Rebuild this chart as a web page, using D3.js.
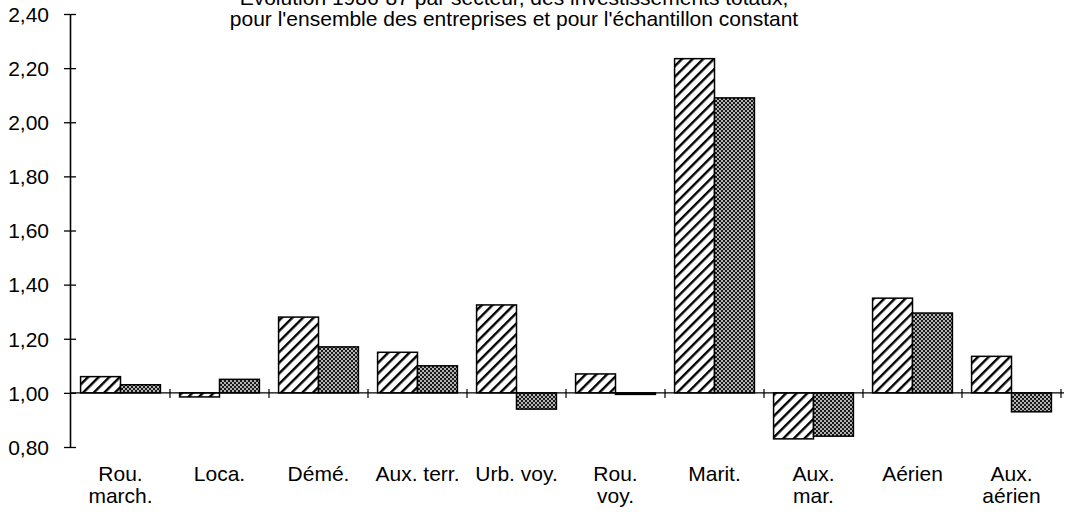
<!DOCTYPE html>
<html>
<head>
<meta charset="utf-8">
<script src="https://cdn.jsdelivr.net/npm/d3@7"></script>
<style>
  html, body { margin: 0; padding: 0; background: #fff; }
  svg { display: block; font-family: "Liberation Sans", Arial, Helvetica, sans-serif; }
</style>
</head>
<body>
<svg id="chart" width="1065" height="520"></svg>
<script>
// ---- data ----
const categories = [
  ["Rou.", "march."], ["Loca."], ["Démé."], ["Aux. terr."], ["Urb. voy."],
  ["Rou.", "voy."], ["Marit."], ["Aux.", "mar."], ["Aérien"], ["Aux.", "aérien"]
];
const seriesNames = ["ensemble", "constant"];
const ensembleValues = [1.06, 0.985, 1.28, 1.15, 1.325, 1.07, 2.235, 0.83, 1.35, 1.135];
const constantValues = [1.03, 1.05, 1.17, 1.10, 0.94, 0.995, 2.09, 0.84, 1.295, 0.93];
const yTicks = [0.8, 1.0, 1.2, 1.4, 1.6, 1.8, 2.0, 2.2, 2.4];
const titleLines = [
  "Evolution 1986-87 par secteur, des investissements totaux,",
  "pour l'ensemble des entreprises et pour l'échantillon constant"
];

// ---- drawing ----
const svg = d3.select("#chart");
const axisX = 70;
const keys = categories.map(c => c.join(" "));
const x = d3.scaleBand().domain(keys).range([71, 1061]).padding(0);
const xi = d3.scaleBand().domain(seriesNames).range([0, x.bandwidth()]).paddingInner(0).paddingOuter(0.24);
const y = d3.scaleLinear().domain([0.8, 2.4]).range([447, 14]);
const base = y(1.0);

const defs = svg.append("defs");
const hatch = defs.append("pattern").attr("id", "hatch")
  .attr("patternUnits", "userSpaceOnUse").attr("width", 7.5).attr("height", 7.5)
  .attr("patternTransform", "rotate(45)");
hatch.append("rect").attr("width", 7.5).attr("height", 7.5).attr("fill", "#fff");
hatch.append("rect").attr("x", 0).attr("y", 0).attr("width", 2.4).attr("height", 7.5).attr("fill", "#000");

const dots = defs.append("pattern").attr("id", "dots")
  .attr("patternUnits", "userSpaceOnUse").attr("width", 4).attr("height", 4);
dots.append("rect").attr("width", 4).attr("height", 4).attr("fill", "#1a1a1a");
dots.append("circle").attr("cx", 1).attr("cy", 1).attr("r", 0.9).attr("fill", "#fff");
dots.append("circle").attr("cx", 3).attr("cy", 3).attr("r", 0.9).attr("fill", "#fff");

// title
svg.append("g").selectAll("text").data(titleLines).join("text")
  .attr("x", 514).attr("y", (d, i) => 5 + i * 21)
  .attr("text-anchor", "middle").attr("font-size", 21).attr("fill", "#000")
  .text(d => d);

// bars
const rows = keys.map((k, i) => ({ key: k, vals: [ensembleValues[i], constantValues[i]] }));
const g = svg.append("g").selectAll("g").data(rows).join("g")
  .attr("transform", d => `translate(${x(d.key)},0)`);
g.selectAll("rect").data(d => d.vals.map((v, j) => ({ s: seriesNames[j], v }))).join("rect")
  .attr("x", d => xi(d.s))
  .attr("width", xi.bandwidth())
  .attr("y", d => Math.min(y(d.v), base))
  .attr("height", d => Math.max(1.5, Math.abs(y(d.v) - base)))
  .attr("fill", d => d.s === "ensemble" ? "url(#hatch)" : "url(#dots)")
  .attr("stroke", "#000").attr("stroke-width", 1.5);

// baseline at 1.00 with group ticks
svg.append("line").attr("x1", axisX).attr("x2", 1064).attr("y1", base).attr("y2", base)
  .attr("stroke", "#000").attr("stroke-width", 1.3);
svg.append("g").selectAll("line").data(keys).join("line")
  .attr("x1", d => x(d) + x.step()).attr("x2", d => x(d) + x.step())
  .attr("y1", base - 4).attr("y2", base + 5)
  .attr("stroke", "#000").attr("stroke-width", 1.2);

// y axis
const yAxis = d3.axisLeft(y).tickValues(yTicks).tickSize(0)
  .tickFormat(d => d3.format(".2f")(d).replace(".", ","));
const ya = svg.append("g").attr("transform", `translate(${axisX},0)`).call(yAxis);
ya.select(".domain").attr("stroke", "#000").attr("stroke-width", 1.6);
ya.selectAll(".tick text").attr("x", -21).attr("dy", "0.35em")
  .attr("font-size", 21).attr("fill", "#000").attr("font-family", "Liberation Sans, Arial, sans-serif");
ya.selectAll(".tick").append("line").attr("x1", -6).attr("x2", 6).attr("y1", 0).attr("y2", 0)
  .attr("stroke", "#000").attr("stroke-width", 1.3);

// category labels
const lab = svg.append("g").selectAll("text").data(categories).join("text")
  .attr("x", (d, i) => x(keys[i]) + x.bandwidth() / 2)
  .attr("y", 481)
  .attr("text-anchor", "middle").attr("font-size", 21).attr("fill", "#000");
lab.selectAll("tspan").data(d => d).join("tspan")
  .attr("x", function () { return d3.select(this.parentNode).attr("x"); })
  .attr("dy", (d, i) => i === 0 ? 0 : 22)
  .text(d => d);
</script>
</body>
</html>
